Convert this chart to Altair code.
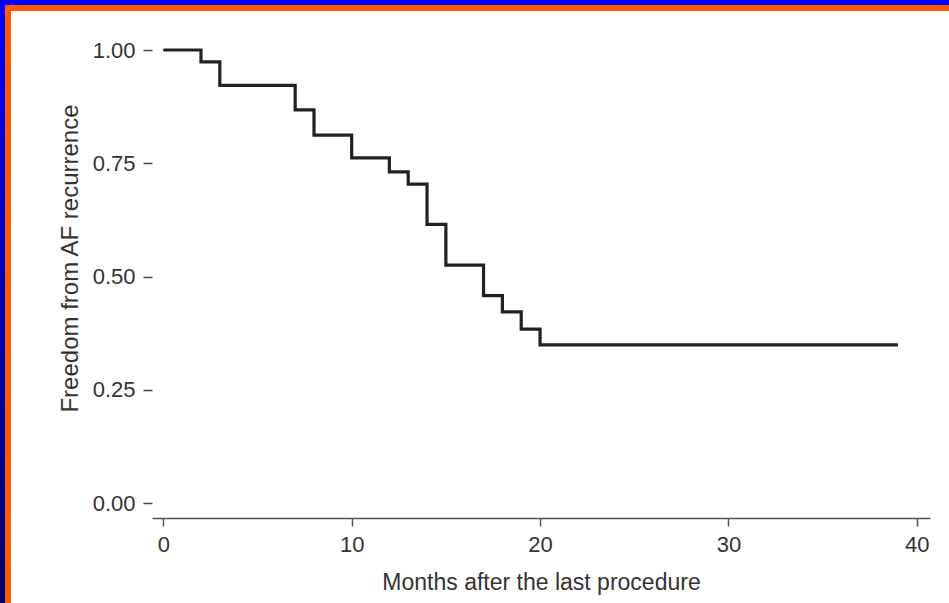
import altair as alt
import pandas as pd

# Kaplan-Meier estimate
months = [0, 2, 3, 7, 8, 10, 12, 13, 14, 15, 17, 18, 19, 20, 39]
freedom = [1.0, 0.974, 0.922, 0.868, 0.812, 0.762, 0.731, 0.704, 0.615,
           0.525, 0.458, 0.422, 0.384, 0.349, 0.349]
x_ticks = [0, 10, 20, 30, 40]
y_ticks = [0.0, 0.25, 0.5, 0.75, 1.0]

df = pd.DataFrame({"months": months, "freedom": freedom})

FONT = "Liberation Sans"
W, H = 778, 453
PAD_L, PAD_T = 152, 50

curve = alt.Chart(df).mark_line(
    interpolate="step-after", color="#222222", strokeWidth=3.2, strokeCap="butt"
).encode(
    x=alt.X("months:Q",
            scale=alt.Scale(domain=[-0.6, 40.7], nice=False, zero=False),
            axis=alt.Axis(values=x_ticks, format="d", title="Months after the last procedure",
                          offset=15, grid=False, domainColor="#555555", domainWidth=1.5,
                          tickColor="#555555", tickWidth=1.5, tickSize=8,
                          labelPadding=8, labelFontSize=22, labelColor="#333333",
                          titleFontSize=23, titleFontWeight="normal", titleColor="#333333",
                          titlePadding=16, labelFont=FONT, titleFont=FONT)),
    y=alt.Y("freedom:Q",
            scale=alt.Scale(domain=[0, 1], nice=False),
            axis=alt.Axis(values=y_ticks, format=".2f", title="Freedom from AF recurrence",
                          grid=False, domain=False, tickColor="#444444", tickWidth=1.5,
                          tickSize=9, labelPadding=8, labelFontSize=22, labelColor="#333333",
                          titleFontSize=24, titleFontWeight="normal", titleColor="#333333",
                          titleX=-82, titleY=208, titleAngle=270, titleAlign="center",
                          titleBaseline="middle", labelFont=FONT, titleFont=FONT)),
)

# decorative frame of the slide (top and left edges)
frame = pd.DataFrame({"k": [0]})
blue_top = alt.Chart(frame).mark_rect(color="#0000ff").encode(
    x=alt.value(-PAD_L), x2=alt.value(W + 40), y=alt.value(-PAD_T), y2=alt.value(-PAD_T + 5))
orange_top = alt.Chart(frame).mark_rect(color="#ff5a00").encode(
    x=alt.value(-PAD_L + 5), x2=alt.value(W + 40), y=alt.value(-PAD_T + 5), y2=alt.value(-PAD_T + 11))
blue_left = alt.Chart(frame).mark_rect(
    color=alt.Gradient(gradient="linear", stops=[alt.GradientStop(color="#0000ff", offset=0),
                                                  alt.GradientStop(color="#000066", offset=1)],
                       x1=0, x2=0, y1=0, y2=1)
).encode(x=alt.value(-PAD_L), x2=alt.value(-PAD_L + 5), y=alt.value(-PAD_T), y2=alt.value(H + 120))
orange_left = alt.Chart(frame).mark_rect(color="#ff5a00").encode(
    x=alt.value(-PAD_L + 5), x2=alt.value(-PAD_L + 11), y=alt.value(-PAD_T + 5), y2=alt.value(H + 120))

chart = alt.layer(curve, blue_top, orange_top, blue_left, orange_left).properties(
    width=W, height=H,
    autosize=alt.AutoSizeParams(type="none"),
    padding={"left": PAD_L, "top": PAD_T, "right": 949 - PAD_L - W, "bottom": 603 - PAD_T - H},
    background="white",
).configure_view(stroke=None)

chart.save("out.html", embed_options={"renderer": "svg", "actions": False})
